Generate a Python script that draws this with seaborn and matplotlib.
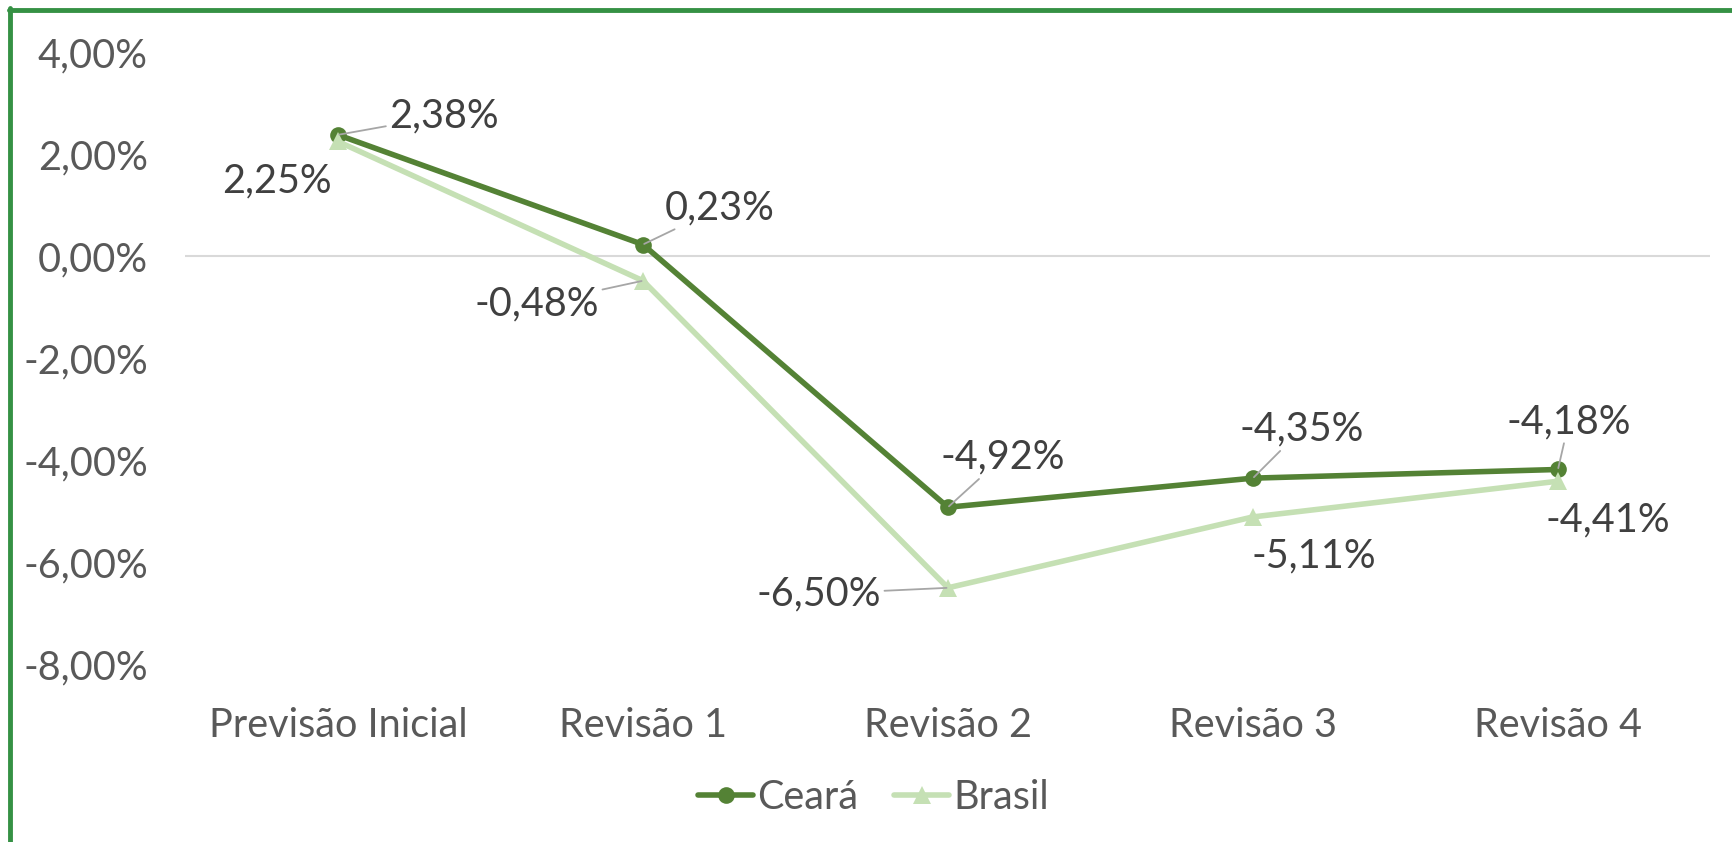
import pandas as pd
import matplotlib.pyplot as plt
import seaborn as sns
from matplotlib.lines import Line2D

categorias = ["Previsão Inicial", "Revisão 1", "Revisão 2", "Revisão 3", "Revisão 4"]
ceara = [2.38, 0.23, -4.92, -4.35, -4.18]
brasil = [2.25, -0.48, -6.50, -5.11, -4.41]
yticks = [4, 2, 0, -2, -4, -6, -8]

# label offsets (pixels) and whether a leader line is drawn
ceara_off = [(106, 19), (77, 37), (55, 50), (49, 49), (11, 48)]
ceara_leader = [True, True, True, True, True]
brasil_off = [(-61, -39), (-106, -23), (-129, -6), (61, -39), (50, -39)]
brasil_leader = [False, True, True, False, False]

FS = 28.5

sns.set_style("white")
plt.rcParams['font.family'] = ['Lato', 'DejaVu Sans']

df_c = pd.DataFrame({"cat": categorias, "val": ceara})
df_b = pd.DataFrame({"cat": categorias, "val": brasil})

fig = plt.figure(figsize=(17.33, 8.42), dpi=100)
ax = fig.add_axes([0.107, 0.211, 0.880, 0.727])

ax.axhline(0, color="#D9D9D9", lw=1.5, zorder=0)
sns.lineplot(data=df_c, x="cat", y="val", ax=ax, color="#548235", lw=4,
             marker="o", markersize=12, markeredgewidth=0, label="Ceará", sort=False)
sns.lineplot(data=df_b, x="cat", y="val", ax=ax, color="#C5E0B4", lw=4,
             marker="^", markersize=13, markeredgewidth=0, label="Brasil", sort=False)

def fmt(v):
    return f"{v:.2f}%".replace(".", ",")

for vals, offs, leaders in [(ceara, ceara_off, ceara_leader), (brasil, brasil_off, brasil_leader)]:
    for i, v in enumerate(vals):
        ap = dict(arrowstyle="-", color="#A6A6A6", lw=1.3, shrinkA=0, shrinkB=1) if leaders[i] else None
        ax.annotate(fmt(v), xy=(i, v), xytext=offs[i], textcoords="offset pixels",
                    ha="center", va="center", fontsize=FS, color="#404040",
                    arrowprops=ap)

ax.set_xlim(-0.5, 4.5)
ax.set_ylim(-8, 4)
ax.set_yticks(yticks)
ax.set_yticklabels([fmt(t) for t in yticks])
ax.set_xlabel("")
ax.set_ylabel("")
ax.tick_params(axis="y", labelsize=FS, labelcolor="#595959", pad=27, length=0)
ax.tick_params(axis="x", labelsize=FS, labelcolor="#595959", pad=31, length=0)
sns.despine(ax=ax, left=True, bottom=True)

handles, labels = ax.get_legend_handles_labels()
ax.get_legend().remove()
leg = fig.legend(handles, labels, loc="center", bbox_to_anchor=(0.504, 0.053), ncol=2,
                 frameon=False, fontsize=FS, handlelength=1.4, handletextpad=0.1,
                 columnspacing=0.9)
for t in leg.get_texts():
    t.set_color("#595959")

# green frame (top and left)
fig.add_artist(Line2D([0.005, 1.0], [0.9885, 0.9885], color="#359144", lw=3.5))
fig.add_artist(Line2D([0.0058, 0.0058], [0.99, 0.0], color="#359144", lw=3.5))

fig.savefig("out.png", dpi=100)
